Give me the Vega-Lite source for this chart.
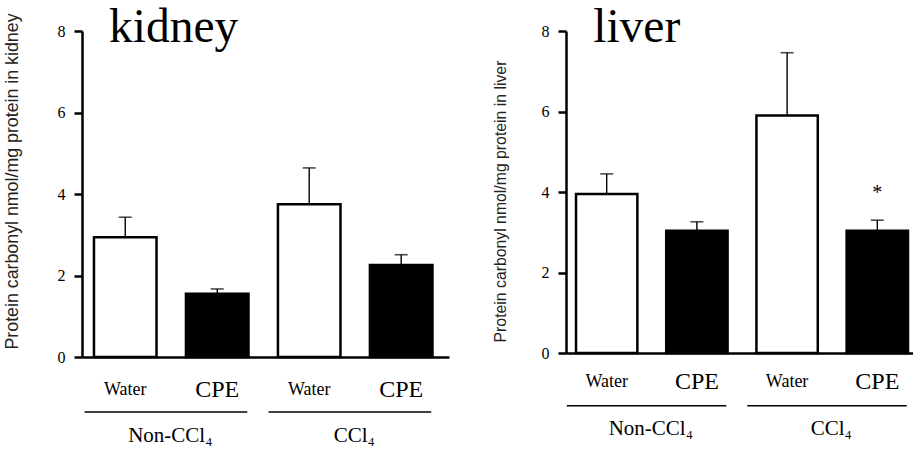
{
  "$schema": "https://vega.github.io/schema/vega-lite/v6.json",
  "padding": {"left": 3, "top": 3, "right": 0, "bottom": 0},
  "spacing": 43,
  "datasets": {
    "kidney": [
      {"cond": "Non-CCl4|Water", "treatment": "Water", "mean": 2.94, "upper": 3.43, "sig": ""},
      {"cond": "Non-CCl4|CPE", "treatment": "CPE", "mean": 1.55, "upper": 1.67, "sig": ""},
      {"cond": "CCl4|Water", "treatment": "Water", "mean": 3.75, "upper": 4.64, "sig": ""},
      {"cond": "CCl4|CPE", "treatment": "CPE", "mean": 2.26, "upper": 2.51, "sig": ""}
    ],
    "liver": [
      {"cond": "Non-CCl4|Water", "treatment": "Water", "mean": 3.95, "upper": 4.45, "sig": ""},
      {"cond": "Non-CCl4|CPE", "treatment": "CPE", "mean": 3.04, "upper": 3.26, "sig": ""},
      {"cond": "CCl4|Water", "treatment": "Water", "mean": 5.9, "upper": 7.46, "sig": ""},
      {"cond": "CCl4|CPE", "treatment": "CPE", "mean": 3.04, "upper": 3.3, "sig": "*"}
    ],
    "groups": [
      {"group": "Non-CCl₄", "first": "Non-CCl4|Water", "last": "Non-CCl4|CPE"},
      {"group": "CCl₄", "first": "CCl4|Water", "last": "CCl4|CPE"}
    ]
  },
  "hconcat": [
    {
      "width": 367,
      "height": 326,
      "layer": [
        {
          "data": {"name": "kidney"},
          "mark": {"type": "bar", "stroke": "black", "strokeWidth": 2.5},
          "encoding": {
            "x": {"field": "cond", "type": "nominal", "title": null,
              "scale": {"domain": ["Non-CCl4|Water", "Non-CCl4|CPE", "CCl4|Water", "CCl4|CPE"], "paddingInner": 0.32, "paddingOuter": 0.155, "align": 0.42},
              "axis": {"title": null, "labelExpr": "split(datum.value, '|')[1]", "ticks": false, "labelAngle": 0, "labelBaseline": "middle", "labelPadding": 32,
                "domainWidth": 2.5, "domainColor": "black",
                "labelFontSize": {"condition": {"test": "indexof(datum.value, 'CPE') >= 0", "value": 24}, "value": 18}}},
            "y": {"field": "mean", "type": "quantitative",
              "scale": {"domain": [0, 8], "nice": false},
              "axis": {"title": "Protein carbonyl nmol/mg protein in kidney", "values": [0, 2, 4, 6, 8], "titleFontSize": 17.8, "titlePadding": 36, "titleY": 150,
                "domainWidth": 2.5, "domainColor": "black", "tickWidth": 2.5, "tickColor": "black", "tickSize": 8}},
            "color": {"field": "treatment", "type": "nominal", "scale": {"domain": ["Water", "CPE"], "range": ["white", "black"]}, "legend": null}
          }
        },
        {
          "data": {"name": "kidney"},
          "mark": {"type": "rule", "color": "black", "strokeWidth": 1.4},
          "encoding": {
            "x": {"field": "cond", "type": "nominal", "title": null},
            "y": {"field": "mean", "type": "quantitative"},
            "y2": {"field": "upper"}
          }
        },
        {
          "data": {"name": "kidney"},
          "mark": {"type": "tick", "color": "black", "size": 13, "thickness": 1.6, "orient": "horizontal"},
          "encoding": {
            "x": {"field": "cond", "type": "nominal", "title": null},
            "y": {"field": "upper", "type": "quantitative"}
          }
        },
        {
          "data": {"name": "groups"},
          "mark": {"type": "rule", "color": "black", "strokeWidth": 1.6},
          "encoding": {
            "x": {"field": "first", "type": "nominal", "bandPosition": -0.15, "title": null},
            "x2": {"field": "last", "bandPosition": 0.98},
            "y": {"datum": -1.35}
          }
        },
        {
          "data": {"name": "groups"},
          "mark": {"type": "text", "fontSize": 21, "baseline": "middle", "align": "center", "color": "black"},
          "encoding": {
            "x": {"field": "first", "type": "nominal", "bandPosition": 1.22, "title": null},
            "y": {"datum": -1.94},
            "text": {"field": "group"}
          }
        },
        {
          "data": {"values": [{"name": "kidney", "at": "Non-CCl4|Water"}]},
          "mark": {"type": "text", "fontSize": 47.5, "baseline": "alphabetic", "align": "left", "color": "black"},
          "encoding": {
            "x": {"field": "at", "type": "nominal", "bandPosition": 0.24, "title": null},
            "y": {"datum": 7.73},
            "text": {"field": "name"}
          }
        }
      ]
    },
    {
      "width": 352,
      "height": 322,
      "layer": [
        {
          "data": {"name": "liver"},
          "mark": {"type": "bar", "stroke": "black", "strokeWidth": 2.5},
          "encoding": {
            "x": {"field": "cond", "type": "nominal", "title": null,
              "scale": {"domain": ["Non-CCl4|Water", "Non-CCl4|CPE", "CCl4|Water", "CCl4|CPE"], "paddingInner": 0.32, "paddingOuter": 0.111, "align": 0.5},
              "axis": {"title": null, "labelExpr": "split(datum.value, '|')[1]", "ticks": false, "labelAngle": 0, "labelBaseline": "middle", "labelPadding": 28,
                "domainWidth": 2.5, "domainColor": "black",
                "labelFontSize": {"condition": {"test": "indexof(datum.value, 'CPE') >= 0", "value": 24}, "value": 18}}},
            "y": {"field": "mean", "type": "quantitative",
              "scale": {"domain": [0, 8], "nice": false},
              "axis": {"title": "Protein carbonyl nmol/mg protein in liver", "values": [0, 2, 4, 6, 8], "titleFontSize": 15.8, "titlePadding": 33, "titleY": 170,
                "domainWidth": 2.5, "domainColor": "black", "tickWidth": 2.5, "tickColor": "black", "tickSize": 8}},
            "color": {"field": "treatment", "type": "nominal", "scale": {"domain": ["Water", "CPE"], "range": ["white", "black"]}, "legend": null}
          }
        },
        {
          "data": {"name": "liver"},
          "mark": {"type": "rule", "color": "black", "strokeWidth": 1.4},
          "encoding": {
            "x": {"field": "cond", "type": "nominal", "title": null},
            "y": {"field": "mean", "type": "quantitative"},
            "y2": {"field": "upper"}
          }
        },
        {
          "data": {"name": "liver"},
          "mark": {"type": "tick", "color": "black", "size": 13, "thickness": 1.6, "orient": "horizontal"},
          "encoding": {
            "x": {"field": "cond", "type": "nominal", "title": null},
            "y": {"field": "upper", "type": "quantitative"}
          }
        },
        {
          "data": {"name": "liver"},
          "transform": [{"filter": "datum.sig != ''"}],
          "mark": {"type": "text", "fontSize": 20, "baseline": "alphabetic", "align": "center", "dy": -21, "color": "black"},
          "encoding": {
            "x": {"field": "cond", "type": "nominal", "title": null},
            "y": {"field": "upper", "type": "quantitative"},
            "text": {"field": "sig"}
          }
        },
        {
          "data": {"name": "groups"},
          "mark": {"type": "rule", "color": "black", "strokeWidth": 1.6},
          "encoding": {
            "x": {"field": "first", "type": "nominal", "bandPosition": -0.15, "title": null},
            "x2": {"field": "last", "bandPosition": 0.98},
            "y": {"datum": -1.31}
          }
        },
        {
          "data": {"name": "groups"},
          "mark": {"type": "text", "fontSize": 21, "baseline": "middle", "align": "center", "color": "black"},
          "encoding": {
            "x": {"field": "first", "type": "nominal", "bandPosition": 1.22, "title": null},
            "y": {"datum": -1.89},
            "text": {"field": "group"}
          }
        },
        {
          "data": {"values": [{"name": "liver", "at": "Non-CCl4|Water"}]},
          "mark": {"type": "text", "fontSize": 47.5, "baseline": "alphabetic", "align": "left", "color": "black"},
          "encoding": {
            "x": {"field": "at", "type": "nominal", "bandPosition": 0.28, "title": null},
            "y": {"datum": 7.73},
            "text": {"field": "name"}
          }
        }
      ]
    }
  ],
  "config": {
    "view": {"stroke": null},
    "font": "Liberation Serif",
    "text": {"font": "Liberation Serif"},
    "axis": {
      "grid": false,
      "domainColor": "black",
      "domainWidth": 2.5,
      "tickColor": "black",
      "tickWidth": 2.5,
      "tickSize": 8,
      "labelFont": "Liberation Serif",
      "labelColor": "black",
      "labelFontSize": 16,
      "labelPadding": 9,
      "titleFont": "Liberation Sans",
      "titleFontWeight": "normal",
      "titleColor": "#222222"
    }
  }
}
